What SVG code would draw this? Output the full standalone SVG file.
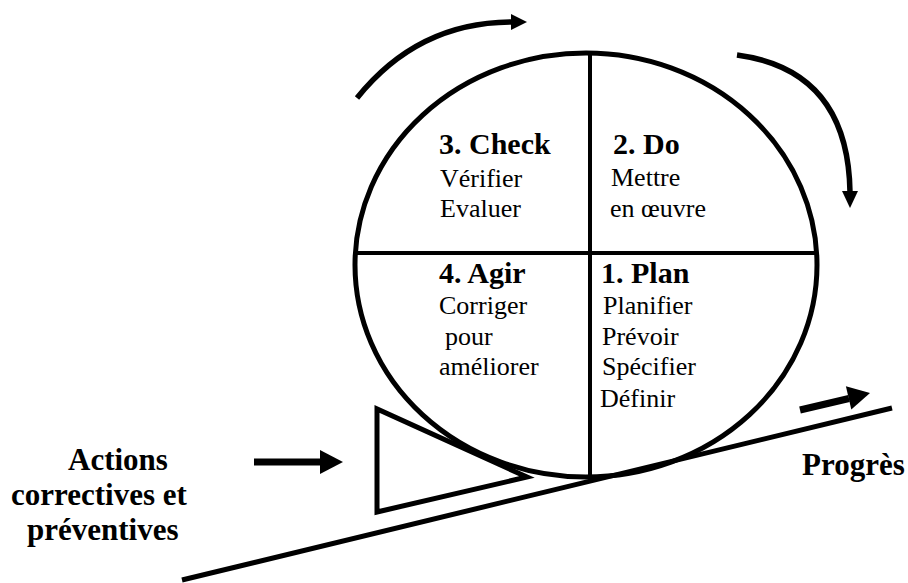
<svg xmlns="http://www.w3.org/2000/svg" width="908" height="583" viewBox="0 0 908 583">
  <style>
    .ln{fill:none;stroke:#000;stroke-width:5}
    .div{stroke:#000;stroke-width:4}
    .arc{fill:none;stroke:#000;stroke-width:5.5;stroke-linecap:butt}
    .shaft{stroke:#000;stroke-width:7}
    .head{fill:#000}
    .h{font-weight:bold;font-size:30px}
    .t{font-weight:normal;font-size:26px}
    .big{font-weight:bold;font-size:31px}
  </style>

  <!-- PDCA wheel -->
  <g id="wheel">
    <ellipse class="ln" cx="586" cy="265" rx="231" ry="212"/>
    <line class="div" x1="590" y1="53" x2="590" y2="477"/>
    <line class="div" x1="355" y1="253" x2="817" y2="253"/>
  </g>

  <g font-family="'Liberation Serif', 'DejaVu Serif', 'Times New Roman', serif" fill="#000">
    <g id="check">
      <text class="h" x="439" y="154">3. Check</text>
      <text class="t" x="440" y="187">Vérifier</text>
      <text class="t" x="440" y="217">Evaluer</text>
    </g>

    <g id="do">
      <text class="h" x="613" y="154">2. Do</text>
      <text class="t" x="611" y="186">Mettre</text>
      <text class="t" x="610" y="217">en œuvre</text>
    </g>

    <g id="agir">
      <text class="h" x="439" y="283">4. Agir</text>
      <text class="t" x="439" y="314">Corriger</text>
      <text class="t" x="445" y="345">pour</text>
      <text class="t" x="439" y="375">améliorer</text>
    </g>

    <g id="plan">
      <text class="h" x="601" y="283">1. Plan</text>
      <text class="t" x="603" y="314">Planifier</text>
      <text class="t" x="602" y="345">Prévoir</text>
      <text class="t" x="602" y="375">Spécifier</text>
      <text class="t" x="600" y="407">Définir</text>
    </g>

    <g id="actions">
      <text class="big" x="68" y="470">Actions</text>
      <text class="big" x="11" y="505">correctives et</text>
      <text class="big" x="27" y="540">préventives</text>
    </g>

    <g id="progres">
      <text class="big" x="802" y="475">Progrès</text>
    </g>
  </g>

  <!-- wedge holding the wheel on the slope -->
  <g id="wedge">
    <polygon class="ln" points="377,409 377,512 527,477" stroke-linejoin="miter"/>
  </g>

  <!-- slope -->
  <g id="slope">
    <line class="ln" x1="182" y1="580" x2="892" y2="408"/>
  </g>

  <!-- arrows -->
  <g id="connectors">
    <path class="arc" d="M357,98 Q418,22 512,22"/>
    <polygon class="head" points="527,22 511,14 511,30"/>

    <path class="arc" d="M737,55 Q848,70 850,192"/>
    <polygon class="head" points="850,208 842,191 858,191"/>

    <line class="shaft" x1="254" y1="462" x2="322" y2="462"/>
    <polygon class="head" points="343,462 320,450 320,474"/>

    <line class="shaft" x1="800" y1="410" x2="849" y2="398.5"/>
    <polygon class="head" points="870,393 845.9,386.2 851.3,409.6"/>
  </g>
</svg>
